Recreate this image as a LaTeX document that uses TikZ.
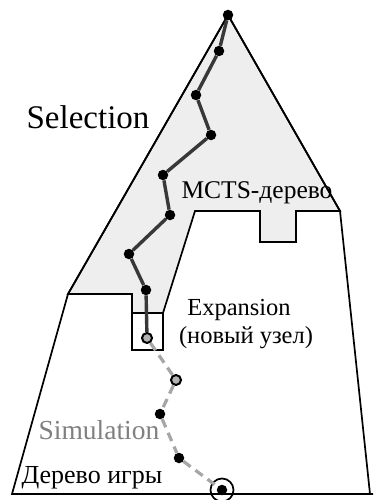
\documentclass[tikz,border=0pt]{standalone}
\usepackage{fontspec}
\setmainfont{Liberation Serif}

\tikzset{
  nodo/.style={circle, fill=black, inner sep=0pt, minimum size=10.5pt},
  nuevo/.style={circle, draw=black, fill=gray!60, line width=2pt, inner sep=0pt, minimum size=10pt},
  camino/.style={line width=3.4pt, draw=black!78},
  simul/.style={line width=3.2pt, draw=gray!70, dash pattern=on 9pt off 6pt},
  borde/.style={line width=1.7pt, draw=black},
  texto/.style={inner sep=0pt, font=\fontsize{24.5}{27}\selectfont},
}

\begin{document}
\begin{tikzpicture}[x=1pt, y=-1pt]
			\useasboundingbox (0,0) rectangle (373,500);

			% Dibujar el arbol MCTS (zona gris)
			\filldraw[borde, fill=gray!13] (228,15) -- (340,211) -- (296,211) -- (296,242) -- (260,242)
				-- (260,211) -- (195,211) -- (163,313) -- (132,313) -- (132,294) -- (68,294) -- cycle;

			% Dibujar el arbol del juego
			\draw[borde] (228,15) -- (340,211) -- (370,494);
			\draw[borde] (228,15) -- (68,294) -- (12,494) -- (373,494);
			\draw[borde] (132,313) rectangle (163,350);

			% Dibujar los nodos
			\node[nodo] (n1) at (228,15) {};
			\node[nodo] (n2) at (219,51) {};
			\node[nodo] (n3) at (196,95) {};
			\node[nodo] (n4) at (211,135) {};
			\node[nodo] (n5) at (163,175) {};
			\node[nodo] (n6) at (170,215) {};
			\node[nodo] (n7) at (129,254) {};
			\node[nodo] (n8) at (146,290) {};
			\node[nuevo] (nuevo) at (147,338) {};
			\node[nuevo] (s1) at (176,380) {};
			\node[nodo] (s2) at (160,414) {};
			\node[nodo] (s3) at (179,458) {};
			\node[nodo] (fin) at (222,490) {};
			\node[circle, borde, minimum size=23pt, inner sep=0pt] (anillo) at (fin) {};

			% Dibujar los caminos
			\draw[camino] (n1) -- (n2) -- (n3) -- (n4) -- (n5) -- (n6) -- (n7) -- (n8) -- (nuevo);
			\draw[simul] (nuevo) -- (s1) -- (s2) -- (s3) -- (fin);

			% Textos
			\node[texto, font=\fontsize{33}{36}\selectfont] (sel) at (88,117) {Selection};
			\node[texto, font=\fontsize{25.5}{28}\selectfont] (mcts) at (257,193) {MCTS-дерево};
			\node[texto] (exp) at (239,310) {Expansion};
			\node[texto] (nuevotxt) at (246,338) {(новый узел)};
			\node[texto, font=\fontsize{27.5}{30}\selectfont, text=gray] (sim) at (99,430) {Simulation};
			\node[texto, font=\fontsize{26}{29}\selectfont] (juego) at (92,478) {Дерево игры};
		\end{tikzpicture}
\end{document}
